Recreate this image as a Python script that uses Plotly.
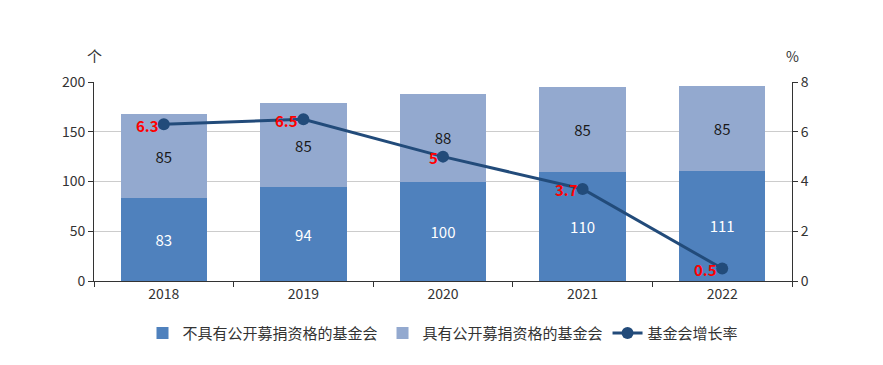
import plotly.graph_objects as go

years = ["2018", "2019", "2020", "2021", "2022"]
no_public = [83, 94, 100, 110, 111]
with_public = [85, 85, 88, 85, 85]
growth = [6.3, 6.5, 5, 3.7, 0.5]

FONT = "Noto Sans CJK SC, Open Sans, sans-serif"

fig = go.Figure()
fig.add_trace(go.Bar(
    x=years, y=no_public, name="不具有公开募捐资格的基金会",
    marker=dict(color="#4f81bd", line=dict(width=0)),
    text=no_public, textposition="inside", insidetextanchor="middle",
    textfont=dict(color="white", size=15, family=FONT), width=0.62,
))
fig.add_trace(go.Bar(
    x=years, y=with_public, name="具有公开募捐资格的基金会",
    marker=dict(color="#93a9cf", line=dict(width=0)),
    text=with_public, textposition="inside", insidetextanchor="middle",
    textfont=dict(color="#1a1a1a", size=15, family=FONT), width=0.62,
))
fig.add_trace(go.Scatter(
    x=years, y=growth, name="基金会增长率", yaxis="y2",
    mode="lines+markers",
    line=dict(color="#224b7a", width=3),
    marker=dict(color="#224b7a", size=12),
    cliponaxis=False,
))

annotations = [
    dict(text="个", xref="paper", yref="paper", x=0, y=1, xanchor="center",
         yanchor="bottom", yshift=14, showarrow=False,
         font=dict(size=15, color="#333333")),
    dict(text="%", xref="paper", yref="paper", x=1, y=1, xanchor="center",
         yanchor="bottom", yshift=14, showarrow=False,
         font=dict(size=14, color="#333333")),
]
for i, g in enumerate(growth):
    annotations.append(dict(
        text=f"<b>{g}</b>", x=i, y=g, xref="x", yref="y2",
        xanchor="right", yanchor="middle", xshift=-3, yshift=-1,
        showarrow=False, font=dict(color="#ff0000", size=15, family=FONT)))

fig.update_layout(
    width=875, height=357,
    margin=dict(l=86, r=91, t=74, b=84, autoexpand=False),
    barmode="stack", bargap=0.38,
    plot_bgcolor="white", paper_bgcolor="white",
    font=dict(family=FONT, size=14, color="#333333"),
    showlegend=True,
    legend=dict(orientation="h", x=0.5, xanchor="center", y=-0.18, yanchor="top",
                font=dict(size=15, color="#333333"), traceorder="normal",
                itemwidth=30),
    xaxis=dict(type="category", showline=True, linecolor="#333333", linewidth=1,
               ticks="outside", ticklen=5, tickcolor="#333333",
               tickson="boundaries", showgrid=False,
               tickfont=dict(size=14, color="#333333")),
    yaxis=dict(range=[0, 200], dtick=50, showline=True, linecolor="#333333",
               ticks="outside", ticklen=5, tickcolor="#333333",
               showgrid=True, gridcolor="#cccccc", zeroline=False,
               tickfont=dict(size=14, color="#333333")),
    yaxis2=dict(range=[0, 8], dtick=2, overlaying="y", side="right",
                showline=True, linecolor="#333333", ticks="outside",
                ticklen=5, tickcolor="#333333", showgrid=False, zeroline=False,
                tickfont=dict(size=14, color="#333333")),
    annotations=annotations,
)

fig.write_html("out.html")
